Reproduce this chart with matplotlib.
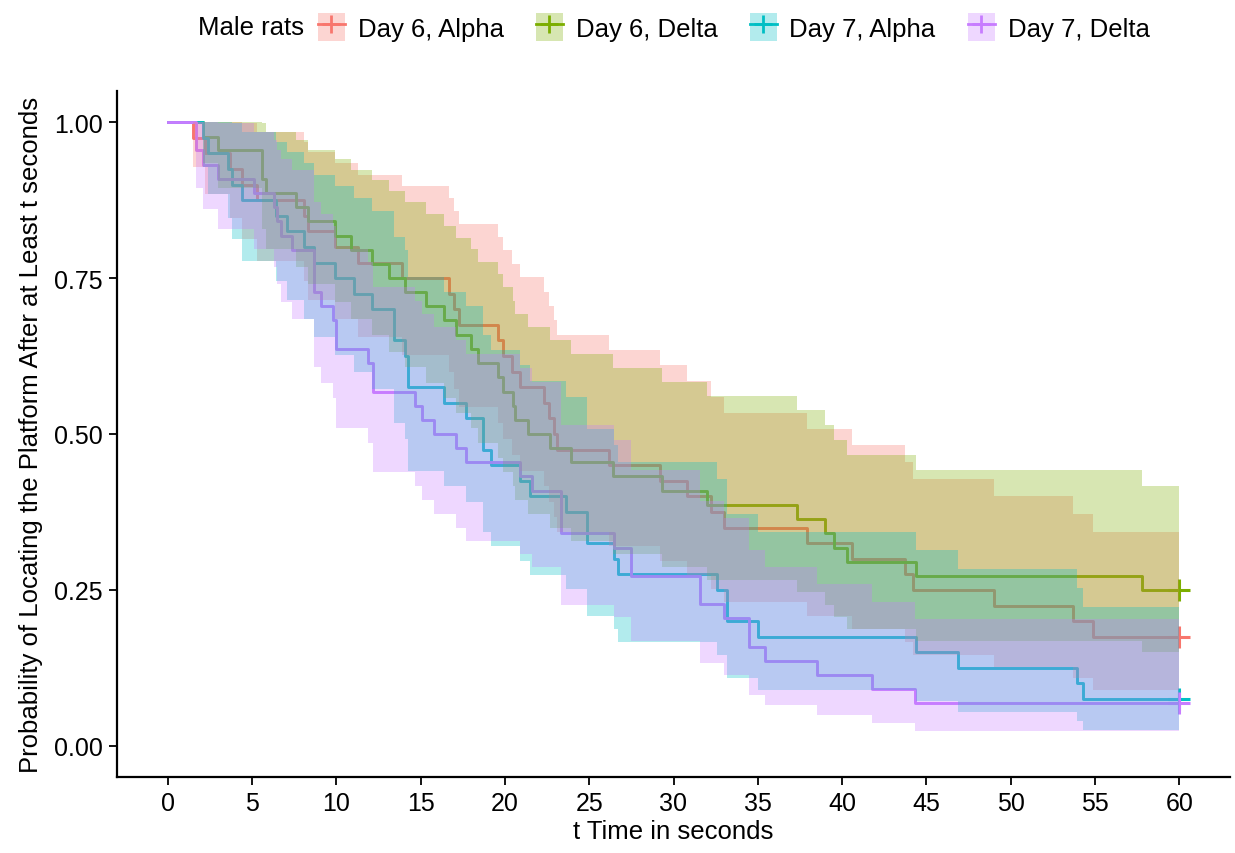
import numpy as np
import matplotlib
matplotlib.use("Agg")
import matplotlib.pyplot as plt
from matplotlib.patches import Patch
from matplotlib.lines import Line2D
from matplotlib.legend_handler import HandlerTuple

plt.rcParams['font.family'] = ['Liberation Sans', 'DejaVu Sans']

# Kaplan-Meier steps (time, survival, 95% band)
d6_alpha_t = [0, 1.5, 2.2, 3.7, 4.4, 5.3, 8.1, 8.3, 9.9, 11.3, 13.9, 16.7, 17.0, 17.3, 19.6, 19.9, 20.4,
              20.9, 22.3, 22.6, 22.9, 23.1, 26.2, 29.2, 30.8, 32.2, 33.0, 37.9, 40.6, 43.7, 44.2, 49.0, 53.7, 54.9]
d6_alpha_s = [1, .975, .95, .925, .9, .875, .85, .825, .8, .775, .75, .725, .7, .675, .65, .625, .6,
              .575, .55, .525, .5, .475, .45, .425, .4, .375, .35, .325, .3, .275, .25, .225, .2, .175]
d6_alpha_lo = [1, .928, .885, .847, .812, .778, .746, .715, .685, .656, .627, .599, .572, .544, .518, .492, .466,
               .441, .416, .391, .367, .343, .320, .296, .274, .251, .230, .208, .187, .166, .146, .127, .108, .089]
d6_alpha_hi = [1, 1, 1, 1, .998, .984, .968, .952, .934, .916, .897, .878, .858, .837, .816, .795, .773,
               .751, .728, .705, .682, .658, .634, .610, .585, .560, .534, .508, .482, .455, .428, .400, .372, .343]

d6_delta_t = [0, 2.1, 3.0, 5.6, 5.85, 7.6, 8.3, 9.9, 10.9, 12.1, 13.1, 14.1, 15.3, 16.4, 17.1, 18.0, 18.4,
              19.6, 19.9, 20.5, 20.6, 21.4, 22.7, 23.9, 26.4, 29.3, 32.0, 37.3, 39.0, 39.5, 40.3, 44.4, 57.8]
d6_delta_s = [1, .977, .955, .909, .886, .864, .841, .818, .795, .773, .750, .727, .705, .682, .659, .636, .614,
              .591, .568, .545, .523, .500, .477, .455, .432, .409, .386, .364, .341, .318, .295, .273, .250]
d6_delta_lo = [1, .934, .895, .828, .797, .768, .740, .712, .685, .658, .632, .607, .582, .557, .533, .509, .485,
               .462, .439, .417, .394, .372, .350, .329, .308, .287, .266, .246, .226, .206, .187, .168, .150]
d6_delta_hi = [1, 1, 1, .998, .985, .971, .956, .941, .924, .907, .890, .872, .853, .834, .815, .796, .776,
               .756, .735, .714, .693, .672, .650, .628, .606, .584, .561, .538, .514, .490, .466, .442, .417]

d7_alpha_t = [0, 2.1, 2.4, 3.6, 3.8, 4.4, 6.4, 7.1, 8.1, 8.7, 9.9, 11.05, 12.1, 13.4, 14.1, 14.25, 16.4,
              17.7, 18.7, 19.15, 20.9, 21.5, 23.6, 24.9, 26.5, 26.7, 32.6, 33.2, 35.0, 44.4, 46.9, 53.9, 54.3]
d7_alpha_s = [1, .975, .95, .925, .9, .875, .85, .825, .8, .775, .75, .725, .7, .65, .625, .575, .55,
              .525, .475, .45, .425, .4, .375, .325, .3, .275, .25, .2, .175, .15, .125, .1, .075]
d7_alpha_lo = [1, .928, .885, .847, .812, .778, .746, .715, .685, .656, .627, .599, .572, .518, .492, .441, .416,
               .391, .343, .320, .296, .274, .251, .208, .187, .166, .146, .108, .089, .072, .055, .040, .025]
d7_alpha_hi = [1, 1, 1, 1, .998, .984, .968, .952, .934, .916, .897, .878, .858, .816, .795, .751, .728,
               .705, .658, .634, .610, .585, .560, .508, .482, .455, .428, .372, .343, .314, .284, .253, .223]

d7_delta_t = [0, 1.7, 2.1, 3.0, 5.1, 6.3, 6.5, 6.7, 7.4, 8.7, 9.1, 9.8, 10.0, 11.9, 12.2, 14.7,
              15.1, 15.8, 17.1, 17.7, 20.9, 21.6, 23.3, 26.5, 27.5, 31.6, 33.0, 34.5, 35.4, 38.5, 41.8, 44.3]
d7_delta_s = [1, .955, .932, .909, .886, .864, .841, .818, .795, .727, .705, .682, .636, .614, .568, .545,
              .523, .500, .477, .455, .432, .409, .341, .318, .273, .227, .205, .159, .136, .114, .091, .068]
d7_delta_lo = [1, .895, .860, .828, .797, .768, .740, .712, .685, .607, .582, .557, .509, .485, .439, .417,
               .394, .372, .350, .329, .308, .287, .226, .206, .168, .132, .114, .081, .065, .050, .036, .023]
d7_delta_hi = [1, 1, 1, .998, .985, .971, .956, .941, .924, .872, .853, .834, .796, .776, .735, .714,
               .693, .672, .650, .628, .606, .584, .514, .490, .442, .392, .366, .314, .287, .259, .231, .203]

labels = ["Day 6, Alpha", "Day 6, Delta", "Day 7, Alpha", "Day 7, Delta"]
colors = ["#F8766D", "#7CAE00", "#00BFC4", "#C77CFF"]
t_end = 60

groups = [
    (d6_alpha_t, d6_alpha_s, d6_alpha_lo, d6_alpha_hi),
    (d6_delta_t, d6_delta_s, d6_delta_lo, d6_delta_hi),
    (d7_alpha_t, d7_alpha_s, d7_alpha_lo, d7_alpha_hi),
    (d7_delta_t, d7_delta_s, d7_delta_lo, d7_delta_hi),
]

fig = plt.figure(figsize=(12.35, 8.54), dpi=100)
ax = fig.add_axes([117 / 1235, 76 / 854, 1113 / 1235, 686 / 854])

# lines first, ribbons over them (as in survminer)
for (t, s, lo, hi), c in zip(groups, colors):
    tt = np.append(t, t_end)
    ax.step(tt, np.append(s, s[-1]), where='post', color=c, lw=2.1, zorder=2)
    ax.plot(t_end, s[-1], marker='+', color=c, markersize=16, mew=2.2, zorder=2)
for (t, s, lo, hi), c in zip(groups, colors):
    tt = np.append(t, t_end)
    ax.fill_between(tt, np.append(lo, lo[-1]), np.append(hi, hi[-1]), step='post',
                    color=c, alpha=0.3, lw=0, zorder=3)

ax.set_xlim(-3, 63)
ax.set_ylim(-0.05, 1.05)
ax.set_xticks(np.arange(0, 61, 5))
ax.set_yticks([0, 0.25, 0.5, 0.75, 1.0])
ax.set_yticklabels(["0.00", "0.25", "0.50", "0.75", "1.00"])
ax.tick_params(labelsize=18, length=6, width=1.3, colors='black', pad=4)
for side in ['top', 'right']:
    ax.spines[side].set_visible(False)
for side in ['left', 'bottom']:
    ax.spines[side].set_linewidth(1.6)
    ax.spines[side].set_zorder(5)

ax.set_xlabel("t Time in seconds", fontsize=18.5, labelpad=3)
ax.set_ylabel("Probability of Locating the Platform After at Least t seconds", fontsize=18.5, labelpad=8)

# legend along the top
handles = [(Patch(facecolor=c, alpha=0.3, lw=0),
            Line2D([], [], color=c, lw=2, marker='+', markersize=13, mew=2)) for c in colors]
fig.text(198 / 1235, 1 - 28 / 854, "Male rats", fontsize=18.5, va='center', ha='left')
fig.legend(handles, labels, loc='center left', bbox_to_anchor=(318 / 1235, 1 - 28 / 854),
           ncol=4, frameon=False, fontsize=18.5, handlelength=1.05, handleheight=1.35,
           handletextpad=0.5, columnspacing=1.25, borderpad=0, borderaxespad=0,
           handler_map={tuple: HandlerTuple(ndivide=1)})

fig.savefig("out.png", dpi=100)
